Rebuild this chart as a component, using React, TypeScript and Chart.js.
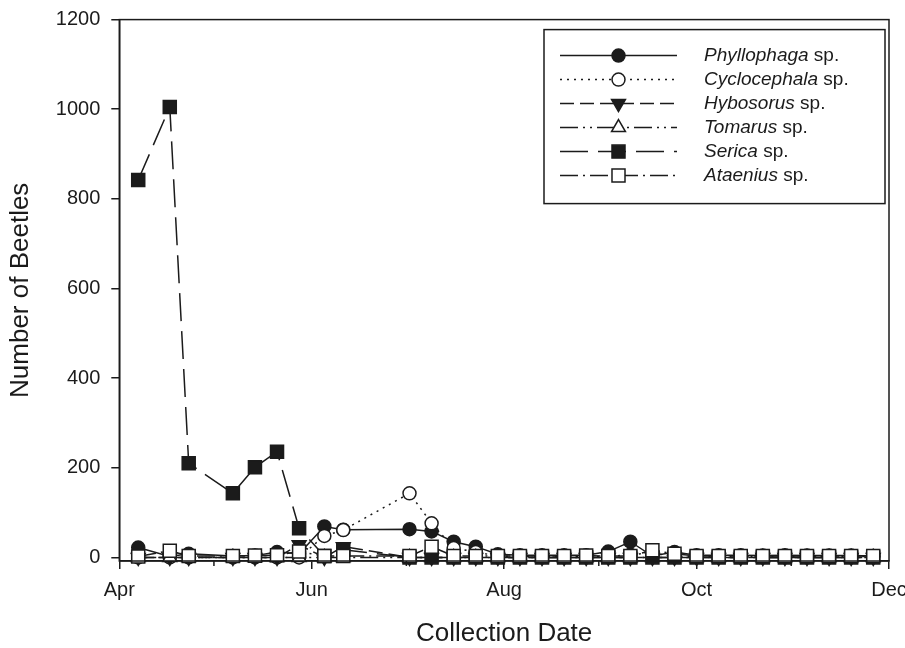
import React, { useEffect, useRef } from 'react';
import { Chart, registerables } from 'chart.js';

Chart.register(...registerables);

// Collection dates, as days after 1 April
const collectionDays = [6, 16, 22, 36, 43, 50, 57, 65, 71, 92, 99, 106, 113, 120, 127, 134, 141, 148, 155, 162, 169, 176, 183, 190, 197, 204, 211, 218, 225, 232, 239];

// Beetle counts per collection date
const phyllophaga = [22, 2, 8, 3, 4, 12, 8, 69, 62, 63, 58, 35, 24, 7, 5, 5, 5, 5, 13, 35, 3, 12, 5, 5, 5, 4, 5, 4, 4, 4, 3];
const cyclocephala = [0, 0, 0, 0, 0, 0, 0, 48, 61, 143, 76, 21, 12, 3, 2, 2, 2, 2, 2, 6, 10, 2, 2, 2, 2, 2, 2, 2, 2, 2, 2];
const hybosorus = [0, 0, 0, 0, 0, 0, 28, 0, 24, 0, 0, 0, 0, 0, 0, 0, 0, 0, 0, 0, 0, 0, 0, 0, 0, 0, 0, 0, 0, 0, 0];
const tomarus = [0, 0, 0, 0, 0, 0, 0, 0, 0, 0, 0, 0, 0, 0, 0, 0, 0, 0, 0, 0, 0, 0, 0, 0, 0, 0, 0, 0, 0, 0, 0];
const serica = [842, 1005, 210, 143, 201, 236, 65, 3, 17, 0, 0, 0, 0, 0, 0, 0, 0, 0, 0, 0, 0, 0, 0, 0, 0, 0, 0, 0, 0, 0, 0];
const ataenius = [2, 15, 3, 3, 4, 5, 13, 3, 3, 3, 24, 3, 3, 3, 3, 3, 3, 4, 3, 3, 16, 8, 3, 3, 3, 3, 3, 3, 3, 3, 3];

// Axis ticks
const majorTickDays = [0, 61, 122, 183, 244];
const majorTickLabels = ['Apr', 'Jun', 'Aug', 'Oct', 'Dec'];
const minorTickDays = [30, 91, 152, 213];
const yTickValues = [0, 200, 400, 600, 800, 1000, 1200];

const genusNames = ['Phyllophaga', 'Cyclocephala', 'Hybosorus', 'Tomarus', 'Serica', 'Ataenius'];

const INK = '#1b1b1b';
const FONT = '"Liberation Sans", Arial, Helvetica, sans-serif';

type SeriesStyle = {
  values: number[];
  dash: number[];
  pointStyle: string;
  radius: number;
  rotation: number;
  filled: boolean;
};

const seriesStyles: SeriesStyle[] = [
  { values: phyllophaga, dash: [], pointStyle: 'circle', radius: 6.5, rotation: 0, filled: true },
  { values: cyclocephala, dash: [2, 5], pointStyle: 'circle', radius: 6.5, rotation: 0, filled: false },
  { values: hybosorus, dash: [14, 6], pointStyle: 'triangle', radius: 8, rotation: 180, filled: true },
  { values: tomarus, dash: [18, 5, 2, 5, 2, 5], pointStyle: 'triangle', radius: 8, rotation: 0, filled: false },
  { values: serica, dash: [28, 10], pointStyle: 'rect', radius: 9.2, rotation: 0, filled: true },
  { values: ataenius, dash: [18, 5, 2, 5], pointStyle: 'rect', radius: 9.2, rotation: 0, filled: false },
];

function drawMarker(ctx: CanvasRenderingContext2D, s: SeriesStyle, x: number, y: number) {
  ctx.save();
  ctx.setLineDash([]);
  ctx.lineWidth = 1.5;
  ctx.strokeStyle = INK;
  ctx.fillStyle = s.filled ? INK : '#ffffff';
  ctx.beginPath();
  const r = s.radius;
  if (s.pointStyle === 'circle') {
    ctx.arc(x, y, r, 0, Math.PI * 2);
  } else if (s.pointStyle === 'rect') {
    const h = Math.SQRT1_2 * r;
    ctx.rect(x - h, y - h, 2 * h, 2 * h);
  } else {
    let rad = (s.rotation * Math.PI) / 180;
    ctx.moveTo(x + Math.sin(rad) * r, y - Math.cos(rad) * r);
    rad += (2 * Math.PI) / 3;
    ctx.lineTo(x + Math.sin(rad) * r, y - Math.cos(rad) * r);
    rad += (2 * Math.PI) / 3;
    ctx.lineTo(x + Math.sin(rad) * r, y - Math.cos(rad) * r);
    ctx.closePath();
  }
  ctx.fill();
  ctx.stroke();
  ctx.restore();
}

const frameLegendPlugin = {
  id: 'frameLegend',
  afterDraw(chart: any) {
    const { ctx, chartArea: a, scales } = chart;
    ctx.save();
    ctx.strokeStyle = INK;
    ctx.lineWidth = 1.5;
    ctx.setLineDash([]);
    ctx.strokeRect(a.left, a.top, a.right - a.left, a.bottom - a.top);

    // minor ticks
    minorTickDays.forEach((d) => {
      const x = scales.x.getPixelForValue(d);
      ctx.beginPath();
      ctx.moveTo(x, a.bottom);
      ctx.lineTo(x, a.bottom + 5);
      ctx.stroke();
    });

    // legend box
    const boxRight = a.right - 4;
    const boxLeft = boxRight - 341;
    const boxTop = a.top + 10;
    ctx.fillStyle = '#ffffff';
    ctx.fillRect(boxLeft, boxTop, 341, 174);
    ctx.strokeRect(boxLeft, boxTop, 341, 174);

    const lineX1 = boxLeft + 16;
    const lineX2 = boxLeft + 133;
    const markerX = (lineX1 + lineX2) / 2;
    const textX = boxLeft + 160;
    seriesStyles.forEach((s, i) => {
      const y = boxTop + 26 + i * 24;
      ctx.save();
      ctx.strokeStyle = INK;
      ctx.lineWidth = 1.5;
      ctx.setLineDash(s.dash);
      ctx.beginPath();
      ctx.moveTo(lineX1, y);
      ctx.lineTo(lineX2, y);
      ctx.stroke();
      ctx.restore();
      drawMarker(ctx, s, markerX, y);

      ctx.fillStyle = INK;
      ctx.textBaseline = 'middle';
      ctx.textAlign = 'left';
      ctx.font = `italic 19px ${FONT}`;
      ctx.fillText(genusNames[i], textX, y);
      const w = ctx.measureText(genusNames[i]).width;
      ctx.font = `19px ${FONT}`;
      ctx.fillText(' sp.', textX + w, y);
    });
    ctx.restore();
  },
};

export default function App() {
  const canvasRef = useRef<HTMLCanvasElement | null>(null);

  useEffect(() => {
    if (!canvasRef.current) return;
    Chart.defaults.font.family = FONT;
    Chart.defaults.color = INK;

    const datasets = seriesStyles.map((s, i) => ({
      label: genusNames[i] + ' sp.',
      data: collectionDays.map((d, j) => ({ x: d, y: s.values[j] })),
      borderColor: INK,
      borderWidth: 1.5,
      borderDash: s.dash,
      backgroundColor: s.filled ? INK : '#ffffff',
      pointStyle: s.pointStyle,
      pointRadius: s.radius,
      pointRotation: s.rotation,
      pointBackgroundColor: s.filled ? INK : '#ffffff',
      pointBorderColor: INK,
      pointBorderWidth: 1.5,
      pointHoverRadius: s.radius,
      tension: 0,
      fill: false,
      clip: false,
      order: seriesStyles.length - i,
    }));

    const chart = new Chart(canvasRef.current, {
      type: 'line',
      data: { datasets: datasets as any },
      plugins: [frameLegendPlugin],
      options: {
        animation: false,
        responsive: false,
        events: [],
        layout: { padding: { left: 0, right: 16, top: 19.6, bottom: 0 } },
        plugins: {
          legend: { display: false },
          tooltip: { enabled: false },
          title: { display: false },
        },
        scales: {
          x: {
            type: 'linear',
            min: 0,
            max: 244,
            afterBuildTicks: (scale: any) => {
              scale.ticks = majorTickDays.map((v) => ({ value: v }));
            },
            afterFit: (scale: any) => {
              scale.height = 87;
              scale.paddingLeft = 0;
              scale.paddingRight = 0;
            },
            ticks: {
              autoSkip: false,
              maxRotation: 0,
              padding: 9,
              font: { size: 20 },
              color: INK,
              callback: (value: any) => {
                const k = majorTickDays.indexOf(Number(value));
                return k >= 0 ? majorTickLabels[k] : '';
              },
            },
            grid: {
              drawOnChartArea: false,
              drawTicks: true,
              tickLength: 8,
              color: INK,
              lineWidth: 1.5,
            },
            border: { display: true, color: INK, width: 1.5 },
            title: {
              display: true,
              text: 'Collection Date',
              font: { size: 26, lineHeight: 1 },
              color: INK,
              padding: { top: 0, bottom: 1 },
            },
          },
          y: {
            type: 'linear',
            min: -8,
            max: 1200,
            afterBuildTicks: (scale: any) => {
              scale.ticks = yTickValues.map((v) => ({ value: v }));
            },
            afterFit: (scale: any) => {
              scale.width = 119.3;
              scale.paddingTop = 0;
              scale.paddingBottom = 0;
            },
            ticks: {
              padding: 11,
              font: { size: 20 },
              color: INK,
              callback: (value: any) => String(value),
            },
            grid: {
              drawOnChartArea: false,
              drawTicks: true,
              tickLength: 8,
              color: INK,
              lineWidth: 1.5,
            },
            border: { display: true, color: INK, width: 1.5 },
            title: {
              display: true,
              text: 'Number of Beetles',
              font: { size: 26, lineHeight: 1 },
              color: INK,
              padding: { top: 8, bottom: 0 },
            },
          },
        },
      } as any,
    });

    return () => {
      chart.destroy();
    };
  }, []);

  return (
    <div style={{ position: 'absolute', left: 0, top: 0, width: 905, height: 648, background: '#ffffff' }}>
      <canvas ref={canvasRef} width={905} height={648} style={{ display: 'block', width: 905, height: 648 }} />
    </div>
  );
}
